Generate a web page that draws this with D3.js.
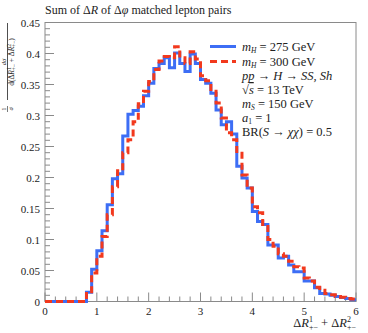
<!DOCTYPE html>
<html>
<head>
<meta charset="utf-8">
<script src="https://cdn.jsdelivr.net/npm/d3@7"></script>
<style>
  body { margin: 0; background: #fff; }
  svg text { font-family: "Liberation Serif", "Times New Roman", "DejaVu Serif", serif; fill: #222; }
</style>
</head>
<body>
<script>
// bins of width 0.1 from 0 to 6
var binEdges = d3.range(0, 60).map(function (i) { return i / 10; });

var mH275 = [0, 0, 0, 0, 0, 0, 0, 0, 0.015, 0.052,
  0.082, 0.114, 0.156, 0.198, 0.206, 0.267, 0.302, 0.308, 0.315, 0.332,
  0.352, 0.376, 0.384, 0.393, 0.377, 0.401, 0.384, 0.371, 0.399, 0.384,
  0.358, 0.352, 0.336, 0.309, 0.285, 0.290, 0.270, 0.218, 0.199, 0.183,
  0.145, 0.129, 0.124, 0.091, 0.091, 0.070, 0.073, 0.059, 0.048, 0.048,
  0.033, 0.033, 0.022, 0.013, 0.012, 0.010, 0.008, 0.0065, 0.005, 0.003];

var mH300 = [0, 0, 0, 0, 0, 0, 0, 0, 0.013, 0.046,
  0.073, 0.105, 0.140, 0.185, 0.211, 0.240, 0.261, 0.290, 0.319, 0.339,
  0.355, 0.374, 0.388, 0.395, 0.393, 0.411, 0.393, 0.384, 0.403, 0.391,
  0.364, 0.356, 0.342, 0.320, 0.296, 0.272, 0.261, 0.239, 0.204, 0.183,
  0.153, 0.143, 0.124, 0.100, 0.089, 0.077, 0.073, 0.065, 0.056, 0.054,
  0.038, 0.033, 0.023, 0.018, 0.013, 0.011, 0.008, 0.007, 0.005, 0.004];

var xTicks = [0, 1, 2, 3, 4, 5, 6];
var yTicks = [0, 0.05, 0.1, 0.15, 0.2, 0.25, 0.3, 0.35, 0.4, 0.45];
var yTickLabels = ["0", "0.05", "0.1", "0.15", "0.2", "0.25", "0.3", "0.35", "0.4", "0.45"];

var W = 368, H = 333;
var padL = 45, padR = 356, padT = 22.5, padB = 301.5;
var serif = "Liberation Serif, Times New Roman, serif";

var svg = d3.select("body").append("svg")
  .attr("width", W)
  .attr("height", H)
  .attr("font-family", serif);

var x = d3.scaleLinear().domain([0, 6]).range([padL, padR]);
var y = d3.scaleLinear().domain([0, 0.45]).range([padB, padT]);

// frame
svg.append("rect")
  .attr("x", padL).attr("y", padT)
  .attr("width", padR - padL).attr("height", padB - padT)
  .attr("fill", "none").attr("stroke", "#8a8a8a").attr("stroke-width", 1);

// y ticks (major + minor), drawn inward
var yMinor = d3.range(0, 46).map(function (i) { return i / 100; });
svg.selectAll(".ytick").data(yMinor).enter().append("line")
  .attr("x1", padL)
  .attr("x2", function (d, i) { return padL + (i % 5 === 0 ? 9 : 5); })
  .attr("y1", function (d) { return y(d); })
  .attr("y2", function (d) { return y(d); })
  .attr("stroke", "#8a8a8a").attr("stroke-width", 1);

svg.selectAll(".ylab").data(yTicks).enter().append("text")
  .attr("x", padL - 5)
  .attr("y", function (d) { return y(d) + 4; })
  .attr("text-anchor", "end")
  .style("font-size", "11px")
  .text(function (d, i) { return yTickLabels[i]; });

// x ticks
var xMinor = d3.range(0, 31).map(function (i) { return i / 5; });
svg.selectAll(".xtick").data(xMinor).enter().append("line")
  .attr("x1", function (d) { return x(d); })
  .attr("x2", function (d) { return x(d); })
  .attr("y1", padB)
  .attr("y2", function (d, i) { return padB - (i % 5 === 0 ? 9 : 5); })
  .attr("stroke", "#8a8a8a").attr("stroke-width", 1);

svg.selectAll(".xlab").data(xTicks).enter().append("text")
  .attr("x", function (d) { return x(d); })
  .attr("y", padB + 13)
  .attr("text-anchor", "middle")
  .style("font-size", "11px")
  .text(function (d) { return d; });

// histograms
function stepPoints(vals) {
  var pts = vals.map(function (v, i) { return [binEdges[i], v]; });
  pts.push([6, vals[vals.length - 1]]);
  return pts;
}

var line = d3.line()
  .x(function (d) { return x(d[0]); })
  .y(function (d) { return y(d[1]); })
  .curve(d3.curveStepAfter);

svg.append("path")
  .attr("d", line(stepPoints(mH275)))
  .attr("fill", "none")
  .attr("stroke", "#3d6ef5")
  .attr("stroke-width", 3);

svg.append("path")
  .attr("d", line(stepPoints(mH300)))
  .attr("fill", "none")
  .attr("stroke", "#f2391d")
  .attr("stroke-width", 3)
  .attr("stroke-dasharray", "7,4");

// title
var title = svg.append("text").attr("x", 45).attr("y", 14).style("font-size", "12px");
title.append("tspan").text("Sum of Δ");
title.append("tspan").style("font-style", "italic").text("R");
title.append("tspan").text(" of Δ");
title.append("tspan").style("font-style", "italic").text("φ");
title.append("tspan").text(" matched lepton pairs");

// legend
svg.append("line").attr("x1", 210).attr("x2", 236).attr("y1", 46.5).attr("y2", 46.5)
  .attr("stroke", "#3d6ef5").attr("stroke-width", 3);
svg.append("line").attr("x1", 210).attr("x2", 236).attr("y1", 61.5).attr("y2", 61.5)
  .attr("stroke", "#f2391d").attr("stroke-width", 3).attr("stroke-dasharray", "7,4");

var legFont = "12.5px";
function mh(val, yy) {
  var t = svg.append("text").attr("x", 242).attr("y", yy).style("font-size", legFont);
  t.append("tspan").style("font-style", "italic").text("m");
  t.append("tspan").style("font-style", "italic").style("font-size", "7.5px").attr("dy", 2.5).text("H");
  t.append("tspan").attr("dy", -2.5).text(" = " + val + " GeV");
}
mh(275, 50.5);
mh(300, 65.5);

var t3 = svg.append("text").attr("x", 242).attr("y", 80).style("font-size", legFont);
t3.append("tspan").style("font-style", "italic").text("pp");
t3.append("tspan").text(" → ");
t3.append("tspan").style("font-style", "italic").text("H");
t3.append("tspan").text(" → ");
t3.append("tspan").style("font-style", "italic").text("SS, Sh");

var t4 = svg.append("text").attr("x", 242).attr("y", 94).style("font-size", legFont);
t4.append("tspan").text("√");
t4.append("tspan").style("font-style", "italic").style("text-decoration", "overline").text("s");
t4.append("tspan").text(" = 13 TeV");

var t5 = svg.append("text").attr("x", 242).attr("y", 107.5).style("font-size", legFont);
t5.append("tspan").style("font-style", "italic").text("m");
t5.append("tspan").style("font-style", "italic").style("font-size", "7.5px").attr("dy", 2.5).text("S");
t5.append("tspan").attr("dy", -2.5).text(" = 150 GeV");

var t6 = svg.append("text").attr("x", 242).attr("y", 121.5).style("font-size", legFont);
t6.append("tspan").style("font-style", "italic").text("a");
t6.append("tspan").style("font-size", "7.5px").attr("dy", 2.5).text("1");
t6.append("tspan").attr("dy", -2.5).text(" = 1");

var t7 = svg.append("text").attr("x", 242).attr("y", 135.5).style("font-size", legFont);
t7.append("tspan").text("BR(");
t7.append("tspan").style("font-style", "italic").text("S");
t7.append("tspan").text(" → ");
t7.append("tspan").style("font-style", "italic").text("χχ");
t7.append("tspan").text(") = 0.5");

// x axis title
var xt = svg.append("text").attr("x", padR).attr("y", 327)
  .attr("text-anchor", "end").style("font-size", "12.5px");
xt.append("tspan").text("Δ");
xt.append("tspan").style("font-style", "italic").text("R");
xt.append("tspan").style("font-size", "8px").attr("dy", -5).text("1");
xt.append("tspan").style("font-size", "8px").attr("dx", -4).attr("dy", 8).text("+−");
xt.append("tspan").attr("dy", -3).text(" + Δ");
xt.append("tspan").style("font-style", "italic").text("R");
xt.append("tspan").style("font-size", "8px").attr("dy", -5).text("2");
xt.append("tspan").style("font-size", "8px").attr("dx", -4).attr("dy", 8).text("+−");

// y axis title: 1/σ · dσ / d(ΔR1 + ΔR2), rotated so local y = screen x
var yg = svg.append("g").attr("transform", "rotate(-90)");
yg.append("text").attr("x", -109).attr("y", 6).attr("text-anchor", "middle")
  .style("font-size", "6.5px").text("1");
yg.append("line").attr("x1", -112).attr("x2", -106).attr("y1", 7.5).attr("y2", 7.5)
  .attr("stroke", "#222").attr("stroke-width", 0.6);
yg.append("text").attr("x", -109).attr("y", 12.5).attr("text-anchor", "middle")
  .style("font-size", "6.5px").style("font-style", "italic").text("σ");

yg.append("text").attr("x", -62).attr("y", 5.5).attr("text-anchor", "middle")
  .style("font-size", "6.5px").style("font-style", "italic").text("dσ");
yg.append("line").attr("x1", -100).attr("x2", -23).attr("y1", 7.5).attr("y2", 7.5)
  .attr("stroke", "#222").attr("stroke-width", 0.8);
var den = yg.append("text").attr("x", -62).attr("y", 14).attr("text-anchor", "middle")
  .style("font-size", "7.5px");
den.append("tspan").text("d(Δ");
den.append("tspan").style("font-style", "italic").text("R");
den.append("tspan").style("font-size", "5.5px").attr("dy", -3).text("1");
den.append("tspan").style("font-size", "5.5px").attr("dx", -3).attr("dy", 5).text("+−");
den.append("tspan").attr("dy", -2).text(" + Δ");
den.append("tspan").style("font-style", "italic").text("R");
den.append("tspan").style("font-size", "5.5px").attr("dy", -3).text("2");
den.append("tspan").style("font-size", "5.5px").attr("dx", -3).attr("dy", 5).text("+−");
den.append("tspan").attr("dy", -2).text(")");
</script>
</body>
</html>
